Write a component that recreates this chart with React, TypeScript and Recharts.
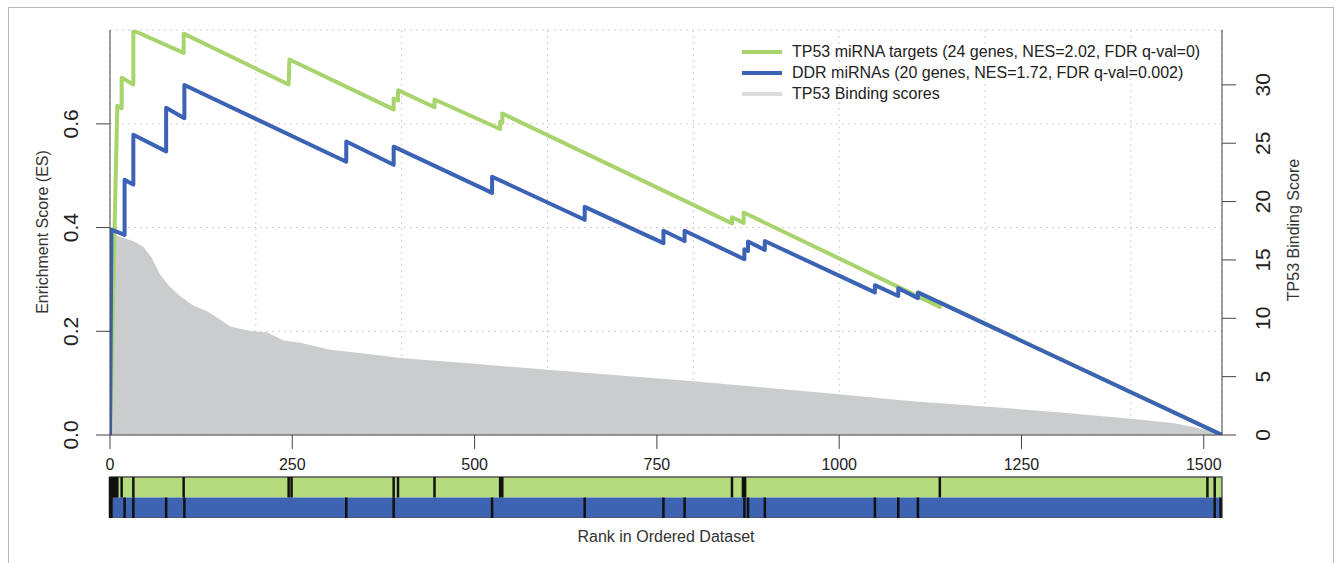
import React from 'react';
import {
  ComposedChart,
  Line,
  Area,
  XAxis,
  YAxis,
  CartesianGrid,
  Legend,
  ReferenceArea,
  ReferenceLine,
} from 'recharts';

const FONT = '"Liberation Sans", Arial, Helvetica, sans-serif';

// ---- axes ----
const TOTAL_RANKS = 1525;
const rankTicks = [0, 250, 500, 750, 1000, 1250, 1500];
const gridRanks = [200, 400, 600, 800, 1000, 1200, 1400];
const esTicks = [0, 0.2, 0.4, 0.6];
const esMax = 0.781;
const scoreTicks = [0, 5, 10, 15, 20, 25, 30];
const scoreMax = 34.7;

// ---- TP53 miRNA targets running enrichment score ----
const tp53Ranks = [0, 10, 16, 16, 32, 32, 101, 101, 245, 246, 389, 389, 395, 395, 445, 445, 535, 535, 538, 538, 853, 853, 869, 869, 1138, 1138, 1525];
const tp53ES = [0, 0.635, 0.63, 0.689, 0.676, 0.78, 0.737, 0.774, 0.676, 0.724, 0.628, 0.649, 0.645, 0.665, 0.632, 0.647, 0.59, 0.604, 0.602, 0.62, 0.408, 0.42, 0.409, 0.429, 0.247, 0.256, 0];

// ---- DDR miRNAs running enrichment score ----
const ddrRanks = [0, 2, 20, 20, 32, 32, 77, 77, 102, 102, 324, 324, 389, 389, 524, 524, 651, 651, 759, 759, 788, 788, 870, 870, 875, 875, 898, 898, 1049, 1049, 1081, 1081, 1108, 1108, 1525];
const ddrES = [0, 0.396, 0.386, 0.492, 0.483, 0.579, 0.547, 0.631, 0.611, 0.675, 0.527, 0.566, 0.521, 0.556, 0.467, 0.498, 0.415, 0.44, 0.37, 0.394, 0.374, 0.394, 0.339, 0.358, 0.355, 0.373, 0.357, 0.374, 0.275, 0.289, 0.268, 0.283, 0.264, 0.275, 0];

// ---- TP53 binding scores (sorted) ----
const bindingRanks = [0, 9, 32, 46, 57, 69, 82, 96, 114, 133, 151, 165, 192, 215, 238, 261, 302, 360, 398, 500, 600, 700, 800, 900, 1000, 1100, 1200, 1300, 1400, 1460, 1500, 1525];
const bindingScores = [17.6, 17.1, 16.6, 16.1, 15.2, 13.7, 12.7, 11.9, 11.1, 10.6, 9.9, 9.3, 8.9, 8.8, 8.1, 7.9, 7.3, 6.9, 6.6, 6.1, 5.6, 5.1, 4.6, 4.05, 3.5, 2.9, 2.45, 1.95, 1.4, 1.0, 0.5, 0.1];

// ---- hit positions (barcode) ----
const tp53Hits = [0, 1, 2, 3, 4, 6, 8, 10, 16, 32, 101, 245, 249, 389, 395, 445, 535, 538, 853, 868, 871, 1138, 1505, 1515];
const ddrHits = [0, 2, 20, 32, 77, 102, 324, 389, 524, 651, 759, 788, 870, 875, 898, 1049, 1081, 1108, 1515, 1523];

// ---- legend ----
const legendLabels = [
  'TP53 miRNA targets (24 genes, NES=2.02, FDR q-val=0)',
  'DDR miRNAs (20 genes, NES=1.72, FDR q-val=0.002)',
  'TP53 Binding scores',
];
const GREEN = '#a8d46e';
const BLUE = '#3c62b5';
const GRAY = '#cbccce';
const legendColors = [GREEN, BLUE, '#dcdcdc'];

const tp53Data = tp53Ranks.map((rank, i) => ({ rank, es: tp53ES[i] }));
const ddrData = ddrRanks.map((rank, i) => ({ rank, es: ddrES[i] }));
const bindingData = bindingRanks.map((rank, i) => ({ rank, score: bindingScores[i] }));

const AXIS_COLOR = '#444';

const RotTick = (props: any) => {
  const { x, y, payload, digits } = props;
  const v = digits ? Number(payload.value).toFixed(digits) : String(payload.value);
  return (
    <text
      x={x}
      y={y}
      dy="0.36em"
      textAnchor="middle"
      transform={`rotate(-90 ${x} ${y})`}
      fontSize={21}
      fill="#222"
      fontFamily={FONT}
    >
      {v}
    </text>
  );
};

const EmptyTick = () => <g />;

const LegendContent = () => (
  <div style={{ fontFamily: FONT, fontSize: 16, color: '#222' }}>
    {legendLabels.map((label, i) => (
      <div key={label} style={{ display: 'flex', alignItems: 'center', height: 21 }}>
        <svg width={40} height={8} style={{ display: 'block' }}>
          <line x1={0} y1={4} x2={40} y2={4} stroke={legendColors[i]} strokeWidth={4} />
        </svg>
        <span style={{ marginLeft: 10, whiteSpace: 'nowrap' }}>{label}</span>
      </div>
    ))}
  </div>
);

export default function App() {
  return (
    <div style={{ position: 'absolute', left: 0, top: 0, width: 1339, height: 563, overflow: 'hidden', background: '#fff', fontFamily: FONT }}>
      <div style={{ position: 'absolute', left: 8, top: 7, width: 1326, height: 600, border: '1px solid #b8b8b8', boxSizing: 'border-box' }} />

      <div style={{ position: 'absolute', left: 0, top: 0 }}>
        <ComposedChart width={1339} height={482} margin={{ top: 30, right: 57, bottom: 0, left: 50 }}>
          <CartesianGrid xAxisId="top" yAxisId="es" stroke="#cfcfcf" strokeDasharray="2 4" />
          <XAxis
            xAxisId="top"
            orientation="top"
            type="number"
            dataKey="rank"
            domain={[0, TOTAL_RANKS]}
            ticks={gridRanks}
            interval={0}
            tick={<EmptyTick />}
            tickLine={false}
            height={0}
            stroke={AXIS_COLOR}
            allowDataOverflow
          />
          <XAxis
            type="number"
            dataKey="rank"
            domain={[0, TOTAL_RANKS]}
            ticks={rankTicks}
            interval={0}
            height={47}
            tickSize={14}
            tickMargin={10}
            stroke={AXIS_COLOR}
            tick={{ fontSize: 16, fill: '#222', fontFamily: FONT }}
            allowDataOverflow
          />
          <YAxis
            yAxisId="es"
            orientation="left"
            type="number"
            domain={[0, esMax]}
            ticks={esTicks}
            width={60}
            tickSize={14}
            tickMargin={26}
            stroke={AXIS_COLOR}
            tick={<RotTick digits={1} />}
            allowDataOverflow
          />
          <YAxis
            yAxisId="bs"
            orientation="right"
            type="number"
            domain={[0, scoreMax]}
            ticks={scoreTicks}
            width={60}
            tickSize={14}
            tickMargin={26}
            stroke={AXIS_COLOR}
            tick={<RotTick />}
            allowDataOverflow
          />
          <Area
            yAxisId="bs"
            data={bindingData}
            dataKey="score"
            type="linear"
            stroke="none"
            fill={GRAY}
            fillOpacity={1}
            isAnimationActive={false}
            name="TP53 Binding scores"
          />
          <Line
            yAxisId="es"
            data={tp53Data}
            dataKey="es"
            type="linear"
            stroke={GREEN}
            strokeWidth={4}
            strokeLinejoin="round"
            dot={false}
            activeDot={false}
            isAnimationActive={false}
            name="TP53 miRNA targets"
          />
          <Line
            yAxisId="es"
            data={ddrData}
            dataKey="es"
            type="linear"
            stroke={BLUE}
            strokeWidth={4}
            strokeLinejoin="round"
            dot={false}
            activeDot={false}
            isAnimationActive={false}
            name="DDR miRNAs"
          />
          <Legend
            layout="horizontal"
            verticalAlign="middle"
            align="center"
            content={<LegendContent />}
            wrapperStyle={{ left: 742, top: 41, width: 'auto', height: 'auto' }}
          />
        </ComposedChart>
      </div>

      <div style={{ position: 'absolute', left: 0, top: 471 }}>
        <ComposedChart width={1339} height={47} margin={{ top: 6, right: 117, bottom: 0, left: 110 }}>
          <XAxis type="number" dataKey="rank" domain={[0, TOTAL_RANKS]} hide allowDataOverflow />
          <YAxis type="number" domain={[0, 2]} hide allowDataOverflow />
          <ReferenceArea x1={0} x2={TOTAL_RANKS} y1={1} y2={2} fill="#b6db7d" fillOpacity={1} stroke="none" />
          <ReferenceArea x1={0} x2={TOTAL_RANKS} y1={0} y2={1} fill="#3d63b2" fillOpacity={1} stroke="none" />
          {tp53Hits.map((r, i) => (
            <ReferenceLine key={'g' + i} segment={[{ x: r, y: 1 }, { x: r, y: 2 }]} stroke="#111" strokeWidth={2.5} />
          ))}
          {ddrHits.map((r, i) => (
            <ReferenceLine key={'b' + i} segment={[{ x: r, y: 0 }, { x: r, y: 1 }]} stroke="#111" strokeWidth={2.5} />
          ))}
          <ReferenceArea x1={0} x2={TOTAL_RANKS} y1={0} y2={2} fill="none" fillOpacity={0} stroke="#555" strokeWidth={1.5} />
        </ComposedChart>
      </div>

      <div style={{ position: 'absolute', left: 43, top: 232, transform: 'translate(-50%, -50%) rotate(-90deg)', fontSize: 16, color: '#333', whiteSpace: 'nowrap' }}>
        Enrichment Score (ES)
      </div>
      <div style={{ position: 'absolute', left: 1294, top: 230, transform: 'translate(-50%, -50%) rotate(-90deg)', fontSize: 16, color: '#333', whiteSpace: 'nowrap' }}>
        TP53 Binding Score
      </div>
      <div style={{ position: 'absolute', left: 666, top: 537, transform: 'translate(-50%, -50%)', fontSize: 16, color: '#333', whiteSpace: 'nowrap' }}>
        Rank in Ordered Dataset
      </div>
    </div>
  );
}
